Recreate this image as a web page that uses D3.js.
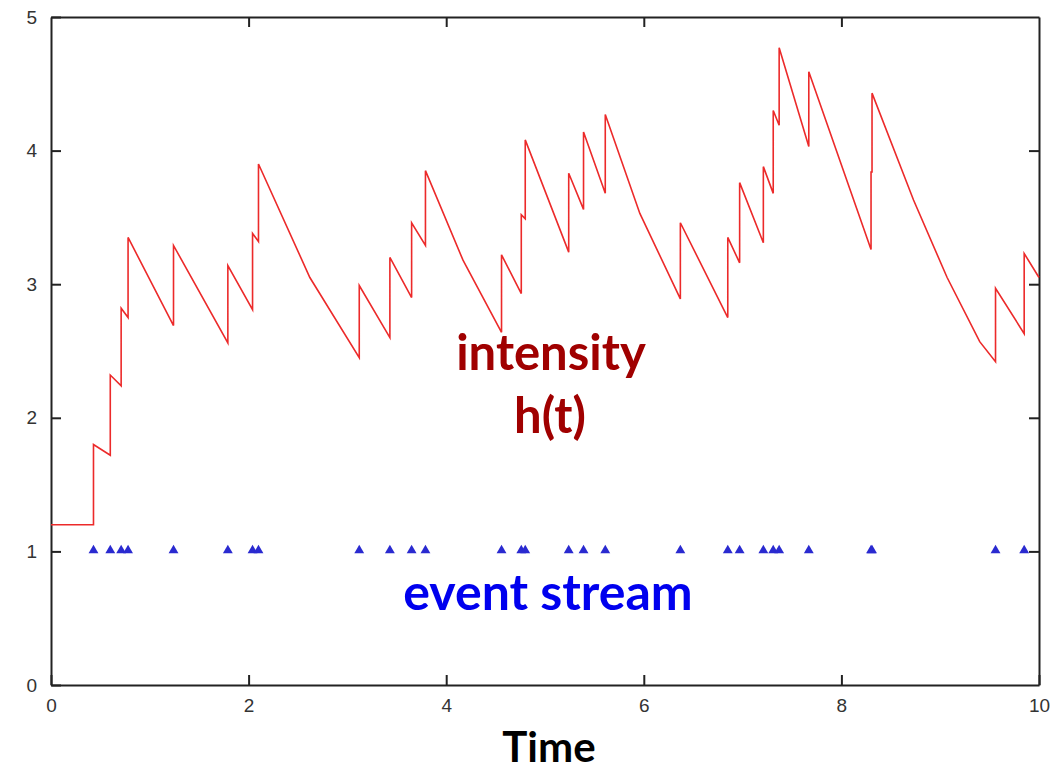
<!DOCTYPE html>
<html>
<head>
<meta charset="utf-8">
<script src="https://cdn.jsdelivr.net/npm/d3@7"></script>
<style>
  body { margin: 0; background: #fff; }
  .axis path, .axis line { stroke: #222; stroke-width: 2; }
  .axis text { font-family: 'Liberation Sans', Arial, sans-serif; font-size: 19px; fill: #333; }
</style>
</head>
<body>
<div id="chart"></div>
<script>
// event times (blue triangles) and intensity just before / just after each event
var eventTimes = [0.43, 0.60, 0.71, 0.78, 1.24, 1.79, 2.04, 2.10, 3.12, 3.43, 3.65, 3.79,
  4.56, 4.76, 4.80, 5.24, 5.39, 5.61, 6.37, 6.85, 6.97, 7.21, 7.31, 7.37, 7.67, 8.30, 8.31,
  9.56, 9.85]
var preJump = [1.20, 1.72, 2.24, 2.75, 2.69, 2.56, 2.81, 3.32, 2.45, 2.60, 2.90, 3.29,
  2.64, 2.93, 3.49, 3.24, 3.56, 3.68, 2.89, 2.75, 3.16, 3.31, 3.68, 4.19, 4.03, 3.26, 3.84,
  2.42, 2.63]
var postJump = [1.80, 2.32, 2.82, 3.35, 3.29, 3.14, 3.38, 3.90, 2.99, 3.20, 3.46, 3.85,
  3.22, 3.52, 4.08, 3.83, 4.14, 4.27, 3.46, 3.35, 3.76, 3.88, 4.30, 4.77, 4.59, 3.84, 4.43,
  2.97, 3.23]
// extra samples read along the longer decays
var decayTimes = [2.62, 4.17, 5.96, 8.73, 9.07, 9.40]
var decayValues = [3.05, 3.18, 3.53, 3.63, 3.05, 2.57]
var startValue = 1.20
var endValue = 3.05

var xTicks = [0, 2, 4, 6, 8, 10]
var yTicks = [0, 1, 2, 3, 4, 5]
var eventLevel = 1

var svg = d3.select('#chart').append('svg')
  .attr('width', 1064)
  .attr('height', 773)

var x = d3.scaleLinear().domain([0, 10]).range([51, 1039])
var y = d3.scaleLinear().domain([0, 5]).range([685, 17])

// build the path points: baseline, each jump, and the decay samples
var points = [{ t: 0, v: startValue }]
eventTimes.forEach(function(t, i) {
  points.push({ t: t, v: preJump[i] })
  points.push({ t: t, v: postJump[i] })
})
decayTimes.forEach(function(t, i) { points.push({ t: t, v: decayValues[i] }) })
points.push({ t: 10, v: endValue })
points.sort(function(a, b) { return a.t - b.t })

// axes on all four sides, ticks pointing in
svg.append('g').attr('class', 'axis')
  .attr('transform', 'translate(0,685)')
  .call(d3.axisBottom(x).tickValues(xTicks).tickSize(-10).tickSizeOuter(0).tickPadding(14).tickFormat(d3.format('d')))
svg.append('g').attr('class', 'axis')
  .attr('transform', 'translate(0,17)')
  .call(d3.axisTop(x).tickValues(xTicks.slice(1, -1)).tickSize(-10).tickSizeOuter(0).tickFormat(''))
svg.append('g').attr('class', 'axis')
  .attr('transform', 'translate(51,0)')
  .call(d3.axisLeft(y).tickValues(yTicks).tickSize(-10).tickSizeOuter(0).tickPadding(14).tickFormat(d3.format('d')))
svg.append('g').attr('class', 'axis')
  .attr('transform', 'translate(1039,0)')
  .call(d3.axisRight(y).tickValues(yTicks.slice(1, -1)).tickSize(-10).tickSizeOuter(0).tickFormat(''))

var line = d3.line()
  .x(d => x(d.t))
  .y(d => y(d.v))

svg.append('path')
  .attr('d', line(points))
  .attr('fill', 'none')
  .attr('stroke', '#ec2a2a')
  .attr('stroke-width', 1.6)

svg.selectAll('.event')
  .data(eventTimes)
  .enter().append('path')
  .attr('class', 'event')
  .attr('d', d3.symbol().type(d3.symbolTriangle).size(42))
  .attr('transform', d => `translate(${x(d)},${y(eventLevel) - 1})`)
  .attr('fill', '#2a2ad0')

function label(txt, cx, by, size, color) {
  svg.append('text')
    .attr('x', cx).attr('y', by)
    .attr('text-anchor', 'middle')
    .attr('font-family', 'Lato, sans-serif')
    .attr('font-weight', 'bold')
    .attr('font-size', size)
    .attr('fill', color)
    .text(txt)
}
label('intensity', 551, 370, 49, '#a00000')
label('h(t)', 550, 433, 49, '#a00000')
label('event stream', 548, 610, 50, '#0000ee')
label('Time', 549, 762, 42, '#000')
</script>
</body>
</html>
